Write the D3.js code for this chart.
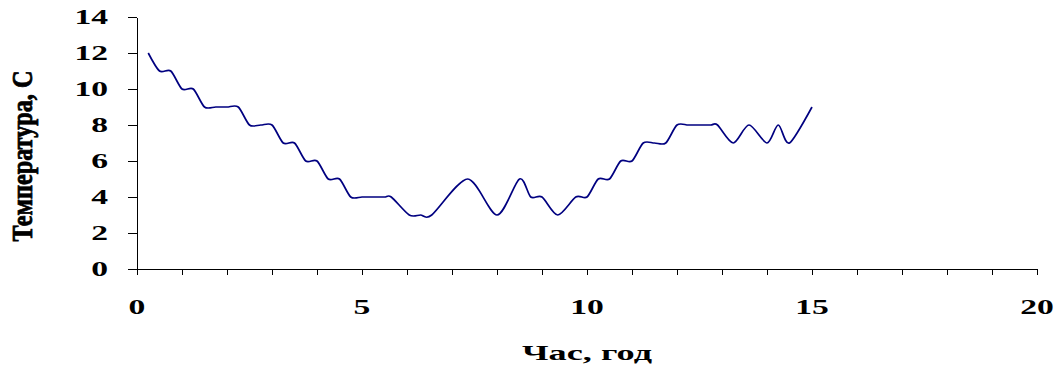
<!DOCTYPE html>
<meta charset="utf-8">
<style>
    body { margin: 0; background: #fff; }
    text {
        font-family: "Times New Roman", "Liberation Serif", serif;
        font-weight: bold;
        fill: #000;
    }
    .axis path, .axis line {
        stroke: #000;
        stroke-width: 1px;
        shape-rendering: crispEdges;
    }
    .curve {
        fill: none;
        stroke: #000080;
        stroke-width: 1.7px;
    }
</style>
<body>
<script src="https://d3js.org/d3.v7.min.js"></script>
<script>
    // hours and temperatures
    var hours = [0.25, 0.5, 0.75, 1.0, 1.25, 1.5, 1.75, 2.0, 2.25, 2.5, 2.75, 3.0, 3.25, 3.5, 3.75, 4.0,
        4.25, 4.5, 4.75, 5.0, 5.25, 5.5, 5.65, 6.05, 6.3, 6.55, 7.35, 8.0, 8.5, 8.75, 9.0, 9.35, 9.75,
        10.0, 10.25, 10.5, 10.75, 11.0, 11.25, 11.5, 11.75, 12.0, 12.25, 12.5, 12.75, 12.9, 13.25,
        13.6, 14.0, 14.25, 14.5, 15.0];
    var temps = [12, 11, 11, 10, 10, 9, 9, 9, 9, 8, 8, 8, 7, 7, 6, 6,
        5, 5, 4, 4, 4, 4, 4, 3, 3, 3, 5, 3, 5, 4, 4, 3, 4,
        4, 5, 5, 6, 6, 7, 7, 7, 8, 8, 8, 8, 8, 7,
        8, 7, 8, 7, 9];
    var xTicks = [0, 5, 10, 15, 20];
    var yTicks = [0, 2, 4, 6, 8, 10, 12, 14];

    var data = hours.map(function(h, i) { return [h, temps[i]]; });

    var svg = d3.select("body").append("svg").attr("width", 1059).attr("height", 365);

    var x = d3.scaleLinear().domain([0, 20]).range([137, 1037]);
    var y = d3.scaleLinear().domain([0, 14]).range([269, 17]);

    // x axis: minor ticks every hour, labels every 5
    var gx = svg.append("g").attr("class", "axis").attr("transform", "translate(0,269)")
        .call(d3.axisBottom(x).tickValues(d3.range(0, 21)).tickSize(6).tickSizeOuter(0).tickFormat(""));
    gx.selectAll(".lbl").data(xTicks).enter().append("text")
        .attr("class", "lbl")
        .attr("transform", d => "translate(" + x(d) + ",45) scale(1.6,1)")
        .attr("text-anchor", "middle")
        .style("font-size", "21px")
        .text(d => d);

    var gy = svg.append("g").attr("class", "axis").attr("transform", "translate(137,0)")
        .call(d3.axisLeft(y).tickValues(yTicks).tickSize(9).tickSizeOuter(0).tickFormat(""));
    gy.selectAll(".lbl").data(yTicks).enter().append("text")
        .attr("class", "lbl")
        .attr("transform", d => "translate(-29," + (y(d) + 7) + ") scale(1.6,1)")
        .attr("text-anchor", "end")
        .style("font-size", "21px")
        .text(d => d);

    svg.append("path").datum(data).attr("class", "curve")
        .attr("d", d3.line().x(d => x(d[0])).y(d => y(d[1])).curve(d3.curveCardinal.tension(0.15)));

    svg.append("text")
        .attr("transform", "translate(587,360) scale(1.65,1)")
        .attr("text-anchor", "middle")
        .style("font-size", "22px")
        .text("Час, год");

    svg.append("text")
        .attr("transform", "translate(32,156) rotate(-90) scale(1.1,1.3)")
        .attr("text-anchor", "middle")
        .style("font-size", "22px")
        .style("stroke", "#000")
        .style("stroke-width", "0.6px")
        .text("Температура, С");
</script>
</body>
